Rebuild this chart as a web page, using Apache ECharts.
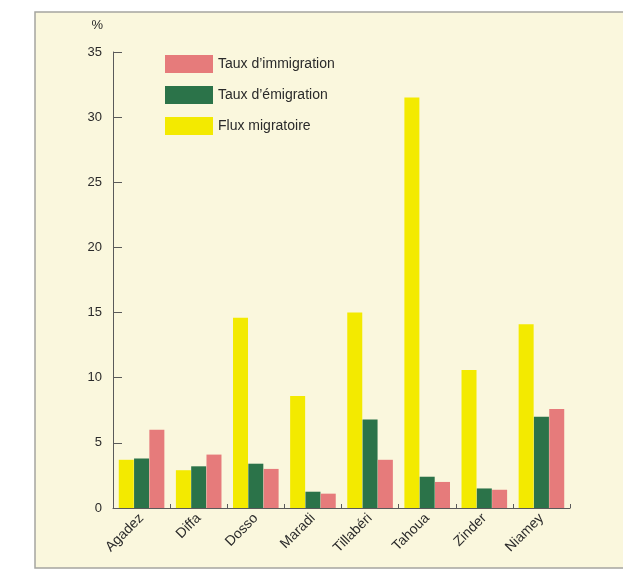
<!DOCTYPE html>
<html><head><meta charset="utf-8">
<script src="https://cdn.jsdelivr.net/npm/echarts@6/dist/echarts.min.js"></script>
<style>html,body{margin:0;padding:0;background:#fff}#c{width:623px;height:572px}</style>
</head><body><div id="c"></div>
<script>
const categories = ['Agadez','Diffa','Dosso','Maradi','Tillabéri','Tahoua','Zinder','Niamey'];
const fluxMigratoire = [3.7, 2.9, 14.6, 8.6, 15.0, 31.5, 10.6, 14.1];
const tauxEmigration = [3.8, 3.2, 3.4, 1.25, 6.8, 2.4, 1.5, 7.0];
const tauxImmigration = [6.0, 4.1, 3.0, 1.1, 3.7, 2.0, 1.4, 7.6];
const yTicks = [0, 5, 10, 15, 20, 25, 30, 35];

const chart = echarts.init(document.getElementById('c'), null, {renderer:'canvas'});
const font = 'Liberation Sans, Arial, sans-serif';
chart.setOption({
  backgroundColor: '#ffffff',
  animation: false,
  graphic: [
    {type:'rect', z:-10, shape:{x:35, y:12, width:600, height:556}, style:{fill:'#faf7dd', stroke:'#a5a5a0', lineWidth:1.5}}
  ],
  textStyle: {fontFamily: font},
  legend: {
    orient: 'vertical', left: 160, top: 50,
    itemWidth: 48, itemHeight: 18, itemGap: 13,
    data: ['Taux d\u2019immigration', 'Taux d\u2019émigration', 'Flux migratoire'],
    textStyle: {fontSize: 14, color: '#2a2a2a', fontFamily: font},
    icon: 'rect'
  },
  grid: {left: 113, right: 53, top: 52, bottom: 64, containLabel: false},
  xAxis: {
    type: 'category', data: categories,
    axisLine: {lineStyle: {color: '#5a5a5a', width: 1}},
    axisTick: {show: true, inside: true, length: 4, lineStyle: {color: '#5a5a5a'}},
    axisLabel: {rotate: 45, fontSize: 14, color: '#2a2a2a', margin: 8, fontFamily: font}
  },
  yAxis: {
    type: 'value', min: 0, max: 35, interval: 5,
    name: '%', nameLocation: 'end', nameGap: 20,
    nameTextStyle: {fontSize: 13, color: '#2a2a2a', align: 'right', padding: [0, 10, 0, 0]},
    axisLine: {show: true, lineStyle: {color: '#5a5a5a', width: 1}},
    axisTick: {show: true, inside: true, length: 9, lineStyle: {color: '#5a5a5a'}},
    splitLine: {show: false},
    axisLabel: {fontSize: 13, color: '#2a2a2a', margin: 11, fontFamily: font,
      formatter: v => yTicks.includes(v) ? String(v) : ''}
  },
  series: [
    {name: 'Flux migratoire', type: 'bar', data: fluxMigratoire, barWidth: 15, barGap: '2%', itemStyle: {color: '#f3ea00'}},
    {name: 'Taux d\u2019émigration', type: 'bar', data: tauxEmigration, barWidth: 15, barGap: '2%', itemStyle: {color: '#2b7349'}},
    {name: 'Taux d\u2019immigration', type: 'bar', data: tauxImmigration, barWidth: 15, barGap: '2%', itemStyle: {color: '#e67b7b'}}
  ]
});
</script></body></html>
